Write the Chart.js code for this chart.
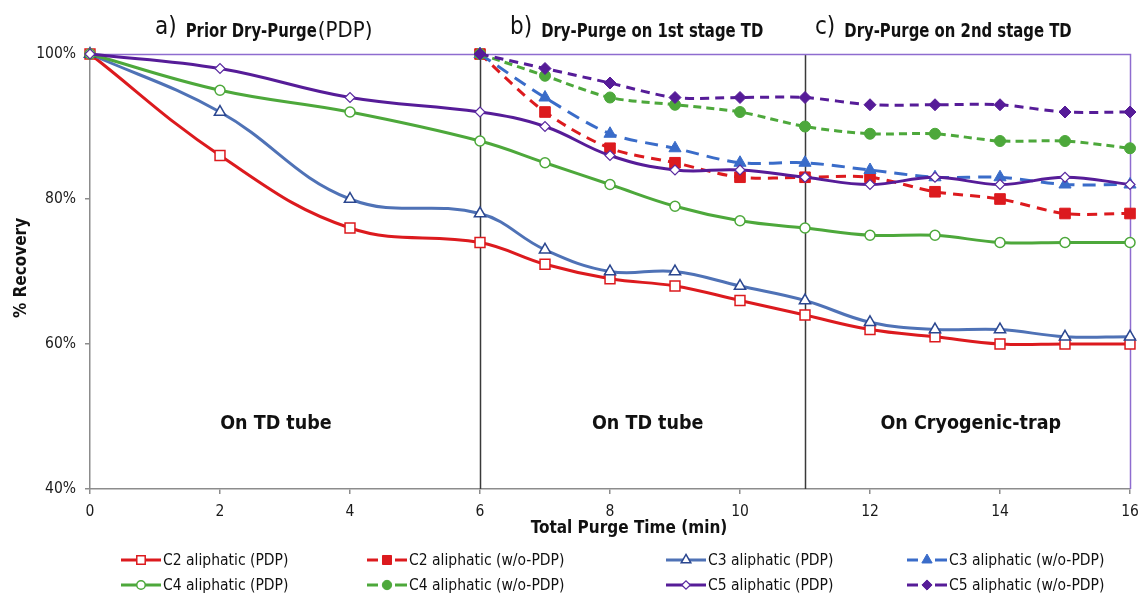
<!DOCTYPE html>
<html>
<head>
<meta charset="utf-8">
<script src="https://cdn.jsdelivr.net/npm/chart.js@4.4.1/dist/chart.umd.min.js"></script>
<style>
  html, body { margin: 0; padding: 0; background: #ffffff; }
  #wrap { width: 1148px; height: 598px; }
</style>
</head>
<body>
<div id="wrap"><canvas id="c" width="1148" height="598"></canvas></div>
<script>
// ---- data ----
const timePDP   = [0, 2, 4, 6, 7, 8, 9, 10, 11, 12, 13, 14, 15, 16];
const timeWoPDP = [6, 7, 8, 9, 10, 11, 12, 13, 14, 15, 16];

const c2PDP = [100, 86, 76, 74, 71, 69, 68, 66, 64, 62, 61, 60, 60, 60];
const c3PDP = [100, 92, 80, 78, 73, 70, 70, 68, 66, 63, 62, 62, 61, 61];
const c4PDP = [100, 95, 92, 88, 85, 82, 79, 77, 76, 75, 75, 74, 74, 74];
const c5PDP = [100, 98, 94, 92, 90, 86, 84, 84, 83, 82, 83, 82, 83, 82];

const c2WoPDP = [100, 92, 87, 85, 83, 83, 83, 81, 80, 78, 78];
const c3WoPDP = [100, 94, 89, 87, 85, 85, 84, 83, 83, 82, 82];
const c4WoPDP = [100, 97, 94, 93, 92, 90, 89, 89, 88, 88, 87];
const c5WoPDP = [100, 98, 96, 94, 94, 94, 93, 93, 93, 92, 92];

const seriesLabels = [
  'C2 aliphatic (PDP)', 'C2 aliphatic (w/o-PDP)',
  'C3 aliphatic (PDP)', 'C3 aliphatic (w/o-PDP)',
  'C4 aliphatic (PDP)', 'C4 aliphatic (w/o-PDP)',
  'C5 aliphatic (PDP)', 'C5 aliphatic (w/o-PDP)'
];
const xTicks = [0, 2, 4, 6, 8, 10, 12, 14, 16];
const yTicks = [40, 60, 80, 100];
const stageBoundaries = [6, 11];
const xAxisTitle = 'Total Purge Time (min)';
const yAxisTitle = '% Recovery';
const panelTitles = [
  { tag: 'a)', bold: 'Prior Dry-Purge', rest: '(PDP)', x: 155 },
  { tag: 'b)', bold: 'Dry-Purge on 1st stage TD', rest: '', x: 510 },
  { tag: 'c)', bold: 'Dry-Purge on 2nd stage TD', rest: '', x: 815 }
];
const regionLabels = [
  { text: 'On TD tube', at: 2.86 },
  { text: 'On TD tube', at: 8.58 },
  { text: 'On Cryogenic-trap', at: 13.55 }
];

// ---- styling ----
const NARROW = '"Liberation Sans Narrow", "Arial Narrow", "DejaVu Sans Condensed", "Liberation Sans", Arial, sans-serif';
const RED = '#dc1a1e', BLUE1 = '#4f72b6', BLUE2 = '#3a6cc9', GREEN = '#4da83b', PURPLE = '#561c98';

function pts(xs, ys) { return xs.map((x, i) => ({ x: x, y: ys[i] })); }

const datasets = [
  { label: seriesLabels[0], data: pts(timePDP, c2PDP), borderColor: RED, borderWidth: 3, tension: 0.4,
    pointStyle: 'rect', pointRadius: 7, pointBackgroundColor: '#ffffff', pointBorderColor: RED, pointBorderWidth: 1.5 },
  { label: seriesLabels[1], data: pts(timeWoPDP, c2WoPDP), borderColor: RED, borderWidth: 3, borderDash: [10, 7], tension: 0.3,
    pointStyle: 'rect', pointRadius: 7.5, pointBackgroundColor: RED, pointBorderColor: RED, pointBorderWidth: 1 },
  { label: seriesLabels[2], data: pts(timePDP, c3PDP), borderColor: BLUE1, borderWidth: 3, tension: 0.4,
    pointStyle: 'triangle', pointRadius: 6.5, pointBackgroundColor: '#ffffff', pointBorderColor: '#2b4790', pointBorderWidth: 1.5 },
  { label: seriesLabels[3], data: pts(timeWoPDP, c3WoPDP), borderColor: BLUE2, borderWidth: 3, borderDash: [13, 8], tension: 0.3,
    pointStyle: 'triangle', pointRadius: 7, pointBackgroundColor: BLUE2, pointBorderColor: BLUE2, pointBorderWidth: 1 },
  { label: seriesLabels[4], data: pts(timePDP, c4PDP), borderColor: GREEN, borderWidth: 3, tension: 0.4,
    pointStyle: 'circle', pointRadius: 5, pointBackgroundColor: '#ffffff', pointBorderColor: GREEN, pointBorderWidth: 1.5 },
  { label: seriesLabels[5], data: pts(timeWoPDP, c4WoPDP), borderColor: GREEN, borderWidth: 3, borderDash: [8, 5], tension: 0.3,
    pointStyle: 'circle', pointRadius: 5.5, pointBackgroundColor: GREEN, pointBorderColor: GREEN, pointBorderWidth: 1 },
  { label: seriesLabels[6], data: pts(timePDP, c5PDP), borderColor: PURPLE, borderWidth: 3, tension: 0.4,
    pointStyle: 'rectRot', pointRadius: 5, pointBackgroundColor: '#ffffff', pointBorderColor: '#5a2aa0', pointBorderWidth: 1.2 },
  { label: seriesLabels[7], data: pts(timeWoPDP, c5WoPDP), borderColor: PURPLE, borderWidth: 3, borderDash: [9, 6], tension: 0.3,
    pointStyle: 'rectRot', pointRadius: 6, pointBackgroundColor: PURPLE, pointBorderColor: PURPLE, pointBorderWidth: 1 }
];
datasets.forEach((d, i) => { d.fill = false; d.clip = false; d.order = 7 - i; });

const PLOT = { left: 90, right: 1130, top: 54, bottom: 489 };

function drawSqueezed(ctx, text, x, y, sx) {
  ctx.save();
  ctx.translate(x, y);
  ctx.scale(sx, 1);
  ctx.fillText(text, 0, 0);
  ctx.restore();
  return ctx.measureText(text).width * sx;
}

const decorPlugin = {
  id: 'decor',
  beforeDatasetsDraw(chart) {
    const { ctx, chartArea: a, scales: { x } } = chart;
    ctx.save();
    // stage boundaries
    ctx.strokeStyle = '#3a3a3a';
    ctx.lineWidth = 1.5;
    stageBoundaries.forEach(v => {
      const px = Math.round(x.getPixelForValue(v)) + 0.5;
      ctx.beginPath(); ctx.moveTo(px, a.top); ctx.lineTo(px, a.bottom); ctx.stroke();
    });
    // purple frame top / right
    ctx.strokeStyle = '#8e6ccf';
    ctx.lineWidth = 1.5;
    ctx.beginPath();
    ctx.moveTo(a.left, a.top + 0.5); ctx.lineTo(a.right + 0.5, a.top + 0.5); ctx.lineTo(a.right + 0.5, a.bottom);
    ctx.stroke();
    // region labels
    ctx.fillStyle = '#111';
    ctx.font = 'bold 19.5px ' + NARROW;
    ctx.textAlign = 'center';
    ctx.textBaseline = 'middle';
    regionLabels.forEach(r => {
      ctx.fillText(r.text, x.getPixelForValue(r.at), 424);
    });
    ctx.restore();
  },
  afterDraw(chart) {
    const { ctx } = chart;
    ctx.save();
    ctx.fillStyle = '#111';
    // axis titles
    ctx.textAlign = 'center';
    ctx.textBaseline = 'middle';
    ctx.font = 'bold 17px ' + NARROW;
    ctx.fillText(xAxisTitle, 629, 529);
    ctx.save();
    ctx.translate(22, 268);
    ctx.rotate(-Math.PI / 2);
    ctx.font = 'bold 17px ' + NARROW;
    ctx.fillText(yAxisTitle, 0, 0);
    ctx.restore();
    // panel titles
    ctx.textBaseline = 'alphabetic';
    ctx.textAlign = 'left';
    panelTitles.forEach(t => {
      ctx.font = '24px ' + NARROW;
      ctx.fillText(t.tag, t.x, 34);
      let xx = t.x + ctx.measureText(t.tag).width + 9;
      ctx.font = 'bold 19px ' + NARROW;
      xx += drawSqueezed(ctx, t.bold, xx, 37, 0.87) + 1;
      if (t.rest) {
        ctx.font = '22px ' + NARROW;
        ctx.fillText(t.rest, xx, 37);
      }
    });
    // legend
    const cols = [121, 367, 666, 907];
    const rows = [560, 585];
    ctx.font = '15.5px ' + NARROW;
    ctx.textBaseline = 'middle';
    chart.data.datasets.forEach((d, i) => {
      const cx = cols[i % 4], cy = rows[Math.floor(i / 4)];
      ctx.save();
      ctx.strokeStyle = d.borderColor;
      ctx.lineWidth = 3;
      if (d.borderDash) {
        ctx.beginPath(); ctx.moveTo(cx, cy); ctx.lineTo(cx + 11, cy); ctx.stroke();
        ctx.beginPath(); ctx.moveTo(cx + 28, cy); ctx.lineTo(cx + 40, cy); ctx.stroke();
      } else {
        ctx.beginPath(); ctx.moveTo(cx, cy); ctx.lineTo(cx + 40, cy); ctx.stroke();
      }
      ctx.fillStyle = d.pointBackgroundColor;
      ctx.strokeStyle = d.pointBorderColor;
      ctx.lineWidth = d.pointBorderWidth;
      Chart.helpers.drawPoint(ctx, { pointStyle: d.pointStyle, radius: d.pointRadius * 0.85, rotation: 0, borderWidth: d.pointBorderWidth }, cx + 20, cy);
      ctx.restore();
      ctx.fillStyle = '#111';
      ctx.fillText(d.label, cx + 42, cy + 1);
    });
    ctx.restore();
  }
};

new Chart(document.getElementById('c'), {
  type: 'line',
  data: { datasets: datasets },
  options: {
    responsive: false,
    animation: false,
    devicePixelRatio: 1,
    layout: { padding: { left: 0, right: 1148 - PLOT.right, top: PLOT.top, bottom: 598 - 532 } },
    plugins: { legend: { display: false }, tooltip: { enabled: false }, title: { display: false } },
    scales: {
      x: {
        type: 'linear', min: 0, max: 16,
        afterBuildTicks(s) { s.ticks = xTicks.map(v => ({ value: v })); },
        afterFit(s) { s.height = 532 - PLOT.bottom; },
        border: { display: true, color: '#8c8c8c', width: 1.5 },
        grid: { display: true, drawOnChartArea: false, drawTicks: true, tickLength: 5, color: '#8c8c8c', lineWidth: 1.5 },
        ticks: { padding: 9, color: '#1a1a1a', font: { family: NARROW, size: 15.5 } },
        title: { display: false }
      },
      y: {
        type: 'linear', min: 40, max: 100,
        afterBuildTicks(s) { s.ticks = yTicks.map(v => ({ value: v })); },
        afterFit(s) { s.width = PLOT.left; },
        border: { display: true, color: '#8c8c8c', width: 1.5 },
        grid: { display: true, drawOnChartArea: false, drawTicks: true, tickLength: 5, color: '#8c8c8c', lineWidth: 1.5 },
        ticks: { padding: 9, color: '#1a1a1a', font: { family: NARROW, size: 15.5 }, callback: v => v + '%' },
        title: { display: false }
      }
    }
  },
  plugins: [decorPlugin]
});
</script>
</body>
</html>
